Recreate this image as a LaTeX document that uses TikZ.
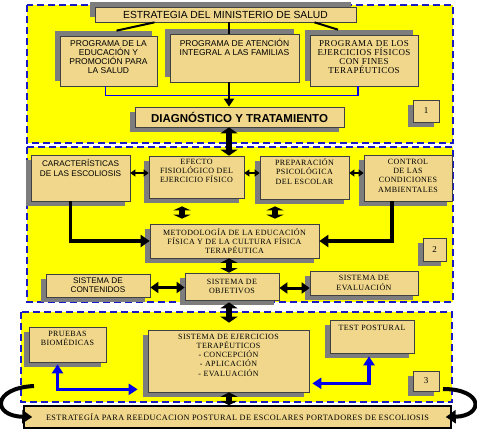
\documentclass[tikz,border=0pt]{standalone}
\usepackage{fontspec}
\setmainfont{Liberation Sans}
\newfontfamily\rmbox[LetterSpace=5]{Liberation Serif}
\usepackage{tikz}
\usetikzlibrary{arrows.meta,shadows}
\definecolor{panelyel}{RGB}{255,255,0}
\definecolor{dashblue}{RGB}{25,25,200}
\definecolor{boxtan}{RGB}{240,215,140}
\definecolor{shadegray}{RGB}{125,125,125}
\definecolor{linkblue}{RGB}{0,0,235}

\begin{document}
\begin{tikzpicture}[
  x=1pt, y=-1pt,
  P/.style = {fill=panelyel, draw=dashblue, line width=1.8pt,
               dash pattern=on 7pt off 4pt},
  base/.style = {draw=black!75, fill=boxtan, line width=0.7pt,
                 inner sep=1pt, align=center},
  B/.style = {base, drop shadow={shadow xshift=-5pt, shadow yshift=-5pt,
                                 fill=shadegray, opacity=1}},
  BU/.style = {base, drop shadow={shadow xshift=-5pt, shadow yshift=5pt,
                                  fill=shadegray, opacity=1}},
  sz/.style 2 args = {minimum width=#1pt, minimum height=#2pt},
  up/.style = {execute at end node={\rule[-#1pt]{0pt}{#1pt}}},
  sa/.style = {font=\fontsize{#1}{9.3}\selectfont},
  sr/.style = {font=\rmbox\fontsize{#1}{9.3}\selectfont},
  darr/.style = {{Triangle[width=17pt,length=#1]}-{Triangle[width=17pt,length=#1]},
                 line width=6pt},
  darr/.default = 6pt,
  sarr/.style = {{Triangle[width=7pt,length=5pt]}-{Triangle[width=7pt,length=5pt]},
                 line width=2pt},
  marr/.style = {{Triangle[width=11pt,length=8pt]}-{Triangle[width=11pt,length=8pt]},
                 line width=3pt},
  elb/.style = {-{Triangle[width=12pt,length=9pt]}, line width=3.5pt},
  bline/.style = {draw=linkblue, line width=1.6pt},
  barr/.style = {{Triangle[width=11pt,length=9pt]}-{Triangle[width=11pt,length=9pt]},
                 color=linkblue, line width=3.5pt},
  curv/.style = {-{Triangle[width=13pt,length=10pt]}, line width=4pt}
]
\useasboundingbox (0,0) rectangle (477,432);

% three dashed panels
\draw[P] (27,5)   rectangle (453,143);
\draw[P] (27,147) rectangle (453,302);
\draw[P] (21,312) rectangle (452,402);

% Panel 1
\node[BU, sz={261}{15}, sa=10.3] (S0) at (225.5,14.5) {ESTRATEGIA DEL MINISTERIO DE SALUD};
\node[BU, sz={97}{50}, sa=8.5, up=8] (P1) at (108.5,61)
  {PROGRAMA DE LA\\EDUCACIÓN Y\\PROMOCIÓN PARA\\LA SALUD};
\node[BU, sz={129}{48}, sa=8.5, up=21] (P2) at (234.5,58)
  {PROGRAMA DE ATENCIÓN\\INTEGRAL A LAS FAMILIAS};
\node[BU, sz={108}{51}, sr=9, up=7] (P3) at (364,60.5)
  {PROGRAMA DE LOS\\EJERCICIOS FÍSICOS\\CON FINES\\TERAPÉUTICOS};
\node[B, sz={209}{20}, font=\fontsize{11.5}{12}\selectfont\bfseries] (DIAG) at (239.5,117)
  {DIAGNÓSTICO Y TRATAMIENTO};
\node[B, sz={26}{22}, sr=9] (N1) at (426,111) {1};

% Panel 2
\node[B, sz={99}{46}, sa=8.2, up=20] (C1) at (80.5,178)
  {CARACTERÍSTICAS\\DE LAS ESCOLIOSIS};
\node[B, sz={95}{42}, sr=8, up=12] (C2) at (196.5,177)
  {EFECTO\\FISIOLÓGICO DEL\\EJERCICIO FÍSICO};
\node[B, sz={89}{43}, sr=8, up=12] (C3) at (304.5,177.5)
  {PREPARACIÓN\\PSICOLÓGICA\\DEL ESCOLAR};
\node[B, sz={88}{46}, sr=8, up=5] (C4) at (408,178)
  {CONTROL\\DE LAS\\CONDICIONES\\AMBIENTALES};
\node[B, sz={169}{34}, sr=8] (M) at (234.5,241)
  {METODOLOGÍA DE LA EDUCACIÓN\\FÍSICA Y DE LA CULTURA FÍSICA\\TERAPÉUTICA};
\node[B, sz={23}{23}, sr=9] (N2) at (434.5,249.5) {2};
\node[B, sz={104}{23}, sa=8.2] (K) at (98,285.5) {SISTEMA DE\\CONTENIDOS};
\node[B, sz={94}{27}, sr=8] (O) at (232,286.5) {SISTEMA DE\\OBJETIVOS};
\node[B, sz={108}{24}, sr=8] (E) at (364,283) {SISTEMA DE\\EVALUACIÓN};

% Panel 3
\node[B, sz={77}{35}, sr=8, up=13] (PB) at (67.5,344.5) {PRUEBAS\\BIOMÉDICAS};
\node[B, sz={161}{62}, sr=8, up=12] (SE) at (228.5,361)
  {SISTEMA DE EJERCICIOS\\TERAPÉUTICOS\\- CONCEPCIÓN\\- APLICACIÓN\\- EVALUACIÓN};
\node[B, sz={84}{33}, sr=8, up=17] (TP) at (372,336.5) {TEST POSTURAL};
\node[B, sz={26}{20}, sr=9] (N3) at (426,381) {3};
\node[base, draw=black, line width=1.5pt, sz={427}{22}, sr=8.2] (bar) at (237.5,417)
  {ESTRATEGÍA PARA REEDUCACION POSTURAL DE ESCOLARES PORTADORES DE ESCOLIOSIS};

\coordinate (ax) at (229,0);
\coordinate (lc) at (34,386);
\coordinate (rc) at (443,389);

% top links
\draw[line width=2pt] ([xshift=-71pt]S0.south) -- ([xshift=8pt,yshift=5pt]P1.north);
\draw[line width=2pt] ([xshift=89pt]S0.south) -- ([xshift=-26pt,yshift=5pt]P3.north);
\draw[line width=2.5pt] (S0.south -| ax) -- (P2.north -| ax);
\draw[bline] ([xshift=-3pt]P1.south) -- ++(0,9) -| ([xshift=-6pt]P3.south);
\draw[-{Triangle[width=10pt,length=8pt]}, line width=2.5pt] (P2.south -| ax) -- (DIAG.north -| ax);

% panel links
\draw[darr] (DIAG.south -| ax) -- (C2.north -| ax);
\draw[sarr] ([yshift=5pt]C1.east) -- ([yshift=5pt]C1.east -| C2.west);
\draw[sarr] ([yshift=4pt]C2.east) -- ([yshift=4pt]C2.east -| C3.west);
\draw[sarr] ([yshift=4.5pt]C3.east) -- ([yshift=4.5pt]C3.east -| C4.west);
\draw[darr=4pt, shorten <=8pt, shorten >=5pt] ([xshift=-14.5pt]C2.south) -- ([xshift=-14.5pt]C2.south |- M.north);
\draw[darr=4pt, shorten <=7pt, shorten >=5pt] ([xshift=-29.5pt]C3.south) -- ([xshift=-29.5pt]C3.south |- M.north);
\draw[elb] ([xshift=-10pt]C1.south) |- (M.west);
\draw[elb] ([xshift=-16pt]C4.south) |- (M.east);
\draw[darr=4.5pt] (M.south -| ax) -- (O.north -| ax);
\draw[marr] ([yshift=-2pt]K.east) -- ([yshift=-2pt]K.east -| O.west);
\draw[marr] ([yshift=-1.5pt]O.east) -- ([yshift=-1.5pt]O.east -| E.west);
\draw[darr, shorten <=2pt, shorten >=7pt] (O.south -| ax) -- (SE.north -| ax);

% panel 3 links
\draw[barr, shorten <=2pt] ([xshift=-10pt]PB.south) |- ([xshift=-10pt,yshift=3pt]SE.south west);
\draw[barr, shorten <=3pt] ([xshift=-3pt]TP.south) |- ([xshift=3pt,yshift=9pt]SE.south east);
\draw[darr=4.5pt] (SE.south -| ax) -- (bar.north -| ax);
\draw[curv] (lc) .. controls (-8,388) and (-8,416) .. ([xshift=9pt]bar.west);
\draw[curv] (rc) .. controls (484,389) and (484,416) .. ([xshift=-6pt]bar.east);

\end{tikzpicture}
\end{document}
